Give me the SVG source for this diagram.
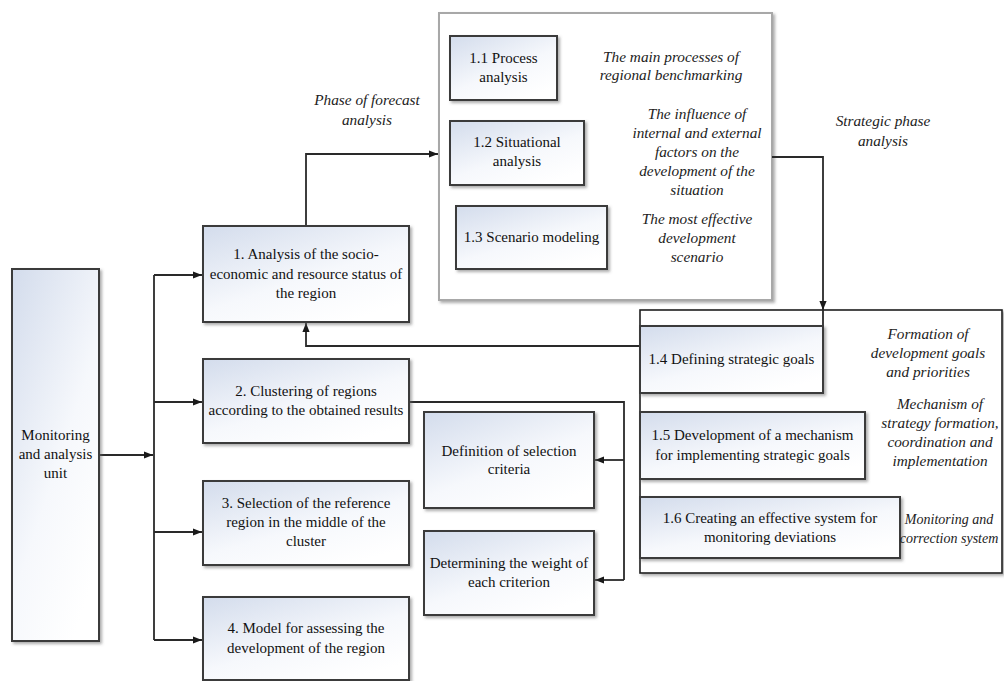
<svg xmlns="http://www.w3.org/2000/svg" width="1004" height="681" viewBox="0 0 1004 681">
<defs>
<linearGradient id="g" x1="0" y1="0" x2="0.7" y2="1">
<stop offset="0" stop-color="#d3dcec"/>
<stop offset="0.6" stop-color="#f6f8fc"/>
<stop offset="1" stop-color="#ffffff"/>
</linearGradient>
<filter id="sh" x="-10%" y="-10%" width="130%" height="130%">
<feDropShadow dx="2" dy="2" stdDeviation="1.4" flood-color="#666" flood-opacity="0.55"/>
</filter>
<marker id="ar" viewBox="0 0 10 10" refX="10" refY="5" markerWidth="9" markerHeight="9" markerUnits="userSpaceOnUse" orient="auto">
<path d="M0,1 L10,5 L0,9 z" fill="#1a1a1a"/>
</marker>
</defs>
<style>
.box{fill:url(#g);stroke:#3a3a3a;stroke-width:2;filter:url(#sh)}
.cont{fill:#ffffff;stroke:#a8a8a8;stroke-width:2;filter:url(#sh)}
.cont2{fill:#ffffff;stroke:#1e1e1e;stroke-width:1.6;filter:url(#sh)}
text{font-family:'Liberation Serif','DejaVu Serif',serif;font-size:15px;text-anchor:middle}
.t{fill:#111}
.i{font-style:italic;font-size:15.3px;fill:#222}
.c{fill:none;stroke:#2a2a2a;stroke-width:1.8}
</style>
<rect width="1004" height="681" fill="#ffffff"/>

<g id="forecast-container">
<rect class="cont" x="439" y="13" width="333" height="287"/>
</g>
<g id="strategic-container">
<rect class="cont2" x="640" y="310" width="362" height="263"/>
</g>

<g id="connectors">
<path class="c" d="M99,455 H153" marker-end="url(#ar)"/>
<path class="c" d="M154,275 V640"/>
<path class="c" d="M154,275 H202" marker-end="url(#ar)"/>
<path class="c" d="M154,402 H202" marker-end="url(#ar)"/>
<path class="c" d="M154,532 H202" marker-end="url(#ar)"/>
<path class="c" d="M154,640 H202" marker-end="url(#ar)"/>
<path class="c" d="M306,226 V154 H438" marker-end="url(#ar)"/>
<path class="c" d="M772,157 H823 V310" marker-end="url(#ar)"/>
<path class="c" d="M823,310 V326"/>
<path class="c" d="M640,346 H306 V323" marker-end="url(#ar)"/>
<path class="c" d="M409,402 H624 V580"/>
<path class="c" d="M624,460 H595" marker-end="url(#ar)"/>
<path class="c" d="M624,580 H595" marker-end="url(#ar)"/>
</g>

<g id="monitoring">
<rect class="box" x="12" y="269" width="87" height="372"/>
<text class="t" x="55.5" y="440">Monitoring</text>
<text class="t" x="55.5" y="459">and analysis</text>
<text class="t" x="55.5" y="478">unit</text>
</g>

<g id="box1">
<rect class="box" x="203" y="226" width="206" height="96"/>
<text class="t" x="306" y="259">1. Analysis of the socio-</text>
<text class="t" x="306" y="279">economic and resource status of</text>
<text class="t" x="306" y="298">the region</text>
</g>
<g id="box2">
<rect class="box" x="203" y="359" width="206" height="84"/>
<text class="t" x="306" y="396">2. Clustering of regions</text>
<text class="t" x="306" y="415">according to the obtained results</text>
</g>
<g id="box3">
<rect class="box" x="203" y="481" width="206" height="84"/>
<text class="t" x="306" y="508">3. Selection of the reference</text>
<text class="t" x="306" y="527">region in the middle of the</text>
<text class="t" x="306" y="546">cluster</text>
</g>
<g id="box4">
<rect class="box" x="203" y="597" width="206" height="83"/>
<text class="t" x="306" y="633">4. Model for assessing the</text>
<text class="t" x="306" y="653">development of the region</text>
</g>

<g id="box1-1">
<rect class="box" x="450" y="36" width="107" height="64"/>
<text class="t" x="503.5" y="63">1.1 Process</text>
<text class="t" x="503.5" y="82">analysis</text>
</g>
<g id="box1-2">
<rect class="box" x="450" y="121" width="134" height="64"/>
<text class="t" x="517" y="147">1.2 Situational</text>
<text class="t" x="517" y="166">analysis</text>
</g>
<g id="box1-3">
<rect class="box" x="456" y="206" width="151" height="63"/>
<text class="t" x="531.5" y="242">1.3 Scenario modeling</text>
</g>

<g id="label-main-processes">
<text class="i" x="671" y="62">The main processes of</text>
<text class="i" x="671" y="80">regional benchmarking</text>
</g>
<g id="label-influence">
<text class="i" x="697" y="119">The influence of</text>
<text class="i" x="697" y="138">internal and external</text>
<text class="i" x="697" y="157">factors on the</text>
<text class="i" x="697" y="176">development of the</text>
<text class="i" x="697" y="195">situation</text>
</g>
<g id="label-effective">
<text class="i" x="697" y="224">The most effective</text>
<text class="i" x="697" y="243">development</text>
<text class="i" x="697" y="262">scenario</text>
</g>
<g id="label-forecast">
<text class="i" x="367" y="105">Phase of forecast</text>
<text class="i" x="367" y="125">analysis</text>
</g>
<g id="label-strategic">
<text class="i" x="883" y="126">Strategic phase</text>
<text class="i" x="883" y="146">analysis</text>
</g>

<g id="definition">
<rect class="box" x="424" y="412" width="170" height="96"/>
<text class="t" x="509" y="456">Definition of selection</text>
<text class="t" x="509" y="474">criteria</text>
</g>
<g id="determining">
<rect class="box" x="424" y="531" width="170" height="84"/>
<text class="t" x="509" y="568">Determining the weight of</text>
<text class="t" x="509" y="587">each criterion</text>
</g>

<g id="box1-4">
<rect class="box" x="640" y="326" width="183" height="67"/>
<text class="t" x="731.5" y="364">1.4 Defining strategic goals</text>
</g>
<g id="box1-5">
<rect class="box" x="640" y="412" width="225" height="67"/>
<text class="t" x="752.5" y="440">1.5 Development of a mechanism</text>
<text class="t" x="752.5" y="460">for implementing strategic goals</text>
</g>
<g id="box1-6">
<rect class="box" x="640" y="497" width="260" height="61"/>
<text class="t" x="770" y="523">1.6 Creating an effective system for</text>
<text class="t" x="770" y="542">monitoring deviations</text>
</g>

<g id="label-formation">
<text class="i" x="928" y="339">Formation of</text>
<text class="i" x="928" y="358">development goals</text>
<text class="i" x="928" y="377">and priorities</text>
</g>
<g id="label-mechanism">
<text class="i" x="940" y="409">Mechanism of</text>
<text class="i" x="940" y="428">strategy formation,</text>
<text class="i" x="940" y="447">coordination and</text>
<text class="i" x="940" y="466">implementation</text>
</g>
<g id="label-monitoring">
<text class="i" x="949" y="524" style="font-size:14px">Monitoring and</text>
<text class="i" x="949" y="543" style="font-size:14px">correction system</text>
</g>
</svg>
